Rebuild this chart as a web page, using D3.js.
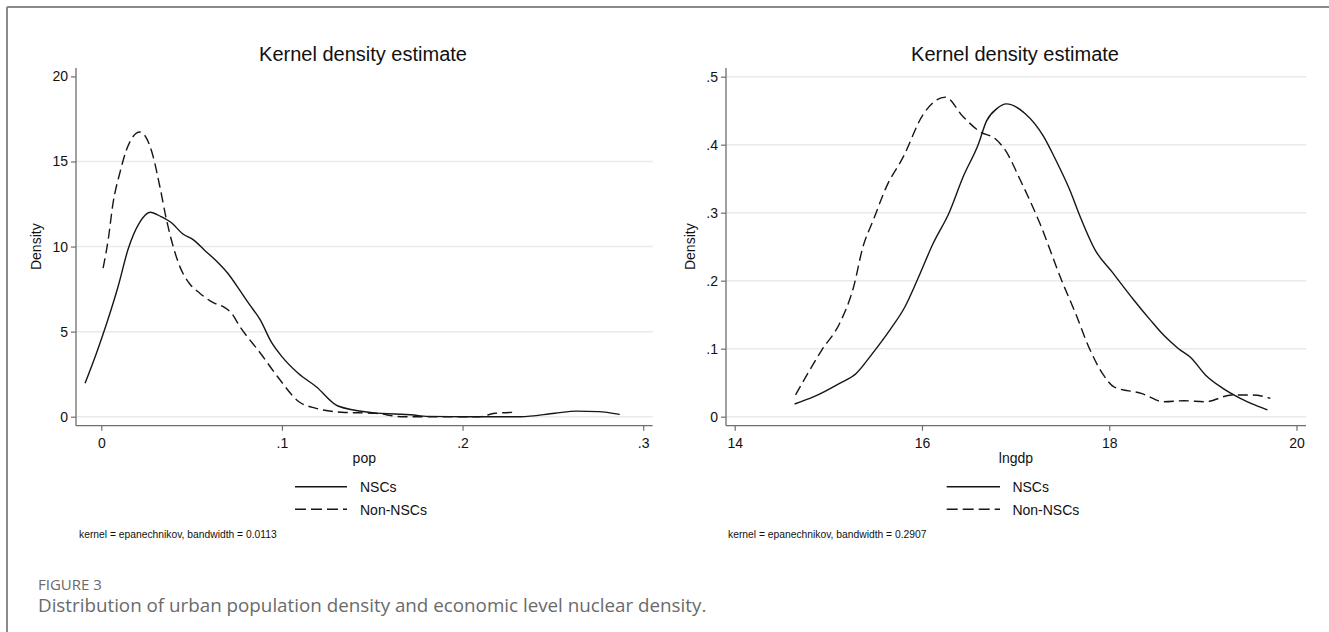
<!DOCTYPE html>
<html>
<head>
<meta charset="utf-8">
<script src="https://cdn.jsdelivr.net/npm/d3@7"></script>
<style>
  html, body { margin: 0; padding: 0; background: #ffffff; }
  svg { display: block; }
  text { font-family: "Liberation Sans", Arial, Helvetica, sans-serif; fill: #111; }
</style>
</head>
<body>
<svg id="chart" width="1329" height="632"></svg>
<script>
// ---------------- data ----------------
// Panel 1: pop
const popNSCsX    = [-0.009, -0.0027, 0.003, 0.0093, 0.015, 0.021, 0.027, 0.033, 0.039, 0.045, 0.051, 0.057, 0.064, 0.070, 0.077, 0.082, 0.088, 0.094, 0.100, 0.109, 0.119, 0.131, 0.150, 0.173, 0.180, 0.200, 0.232, 0.251, 0.263, 0.275, 0.287];
const popNSCsY    = [1.96, 3.73, 5.49, 7.65, 9.9, 11.38, 12.02, 11.76, 11.38, 10.75, 10.39, 9.8, 9.12, 8.43, 7.38, 6.6, 5.69, 4.41, 3.53, 2.55, 1.76, 0.63, 0.24, 0.10, 0.02, 0.0, 0.0, 0.2, 0.33, 0.3, 0.14];
const popNonX     = [0.001, 0.0038, 0.0065, 0.0102, 0.014, 0.0176, 0.0213, 0.025, 0.0287, 0.0324, 0.0361, 0.0398, 0.0435, 0.049, 0.0545, 0.062, 0.0675, 0.0721, 0.0767, 0.0881, 0.0976, 0.1094, 0.1189, 0.1331, 0.152, 0.166, 0.209, 0.218, 0.230];
const popNonY     = [8.73, 10.39, 12.55, 14.3, 15.7, 16.47, 16.73, 16.37, 15.29, 13.53, 11.57, 10.0, 8.82, 7.8, 7.26, 6.7, 6.47, 6.08, 5.3, 3.73, 2.35, 0.88, 0.49, 0.26, 0.2, 0.0, 0.0, 0.2, 0.26];
const popTicksX   = [0, 0.1, 0.2, 0.3];
const popTickLabX = ["0", ".1", ".2", ".3"];
const popTicksY   = [0, 5, 10, 15, 20];
const popTickLabY = ["0", "5", "10", "15", "20"];
const popGrid     = [0, 5, 10, 15];

// Panel 2: lngdp
const gdpNSCsX    = [14.64, 14.84, 15.12, 15.30, 15.46, 15.66, 15.82, 15.95, 16.12, 16.29, 16.44, 16.60, 16.69, 16.80, 16.90, 17.10, 17.30, 17.42, 17.58, 17.69, 17.85, 18.03, 18.26, 18.44, 18.58, 18.74, 18.87, 19.03, 19.21, 19.40, 19.56, 19.69];
const gdpNSCsY    = [0.0187, 0.029, 0.049, 0.064, 0.091, 0.128, 0.162, 0.201, 0.255, 0.30, 0.353, 0.40, 0.435, 0.453, 0.460, 0.446, 0.412, 0.38, 0.333, 0.294, 0.245, 0.213, 0.172, 0.142, 0.120, 0.100, 0.087, 0.061, 0.042, 0.027, 0.017, 0.010];
const gdpNonX     = [14.65, 14.93, 15.12, 15.27, 15.37, 15.48, 15.62, 15.80, 16.01, 16.25, 16.44, 16.62, 16.78, 16.89, 17.05, 17.26, 17.49, 17.64, 17.78, 17.94, 18.05, 18.35, 18.58, 18.80, 19.03, 19.31, 19.53, 19.72];
const gdpNonY     = [0.032, 0.098, 0.137, 0.191, 0.250, 0.289, 0.338, 0.382, 0.444, 0.470, 0.441, 0.419, 0.409, 0.392, 0.348, 0.284, 0.201, 0.152, 0.103, 0.061, 0.044, 0.034, 0.022, 0.0235, 0.022, 0.032, 0.032, 0.027];
const gdpTicksX   = [14, 16, 18, 20];
const gdpTickLabX = ["14", "16", "18", "20"];
const gdpTicksY   = [0, 0.1, 0.2, 0.3, 0.4, 0.5];
const gdpTickLabY = ["0", ".1", ".2", ".3", ".4", ".5"];
const gdpGrid     = [0, 0.1, 0.2, 0.3, 0.4, 0.5];

const seriesNames = ["NSCs", "Non-NSCs"];
const titleText   = "Kernel density estimate";
const xTitles     = ["pop", "lngdp"];
const notes       = ["kernel = epanechnikov, bandwidth = 0.0113", "kernel = epanechnikov, bandwidth = 0.2907"];
const figLabel    = "FIGURE 3";
const captionText = "Distribution of urban population density and economic level nuclear density.";

// ---------------- drawing ----------------
const svg = d3.select("#chart");
const AXIS = "#6e6e6e", GRID = "#e9e9e9", INK = "#161616";
const DASH = "10,5";

// outer frame (top & left)
svg.append("line").attr("x1", 7).attr("y1", 7).attr("x2", 1329).attr("y2", 7)
  .attr("stroke", "#8a8a8a").attr("stroke-width", 2);
svg.append("line").attr("x1", 7).attr("y1", 7).attr("x2", 7).attr("y2", 632)
  .attr("stroke", "#8a8a8a").attr("stroke-width", 2);

const panels = [
  { left: 76, right: 652.6, top: 68, axisY: 425.7,
    xDom: [0, 0.3], xRange: [101.3, 643.2], yDom: [0, 20], yRange: [416.7, 76.4],
    xTicks: popTicksX, xLabs: popTickLabX, yTicks: popTicksY, yLabs: popTickLabY, grid: popGrid,
    s1x: popNSCsX, s1y: popNSCsY, s2x: popNonX, s2y: popNonY,
    titleX: 363, xTitle: xTitles[0], densX: 41, legLine: [295, 347], legText: 360, note: notes[0], noteX: 79 },
  { left: 726, right: 1306, top: 68, axisY: 425.7,
    xDom: [14, 20], xRange: [734.7, 1296.5], yDom: [0, 0.5], yRange: [416.7, 76.7],
    xTicks: gdpTicksX, xLabs: gdpTickLabX, yTicks: gdpTicksY, yLabs: gdpTickLabY, grid: gdpGrid,
    s1x: gdpNSCsX, s1y: gdpNSCsY, s2x: gdpNonX, s2y: gdpNonY,
    titleX: 1015, xTitle: xTitles[1], densX: 695, legLine: [946.7, 1000], legText: 1012.4, note: notes[1], noteX: 728 }
];

panels.forEach(p => {
  const x = d3.scaleLinear().domain(p.xDom).range(p.xRange);
  const y = d3.scaleLinear().domain(p.yDom).range(p.yRange);
  const g = svg.append("g");

  // gridlines
  g.selectAll("line.grid").data(p.grid).enter().append("line")
    .attr("x1", p.left).attr("x2", p.right)
    .attr("y1", d => y(d)).attr("y2", d => y(d))
    .attr("stroke", GRID).attr("stroke-width", 1.5);

  // axes
  const yAxis = d3.axisLeft(y).tickValues(p.yTicks)
    .tickFormat((d, i) => p.yLabs[i]).tickSize(5).tickSizeOuter(0).tickPadding(3);
  const ya = g.append("g").attr("transform", `translate(${p.left},0)`).call(yAxis);
  ya.select(".domain").remove();
  ya.selectAll(".tick line").attr("stroke", AXIS).attr("stroke-width", 1.2);
  ya.selectAll(".tick text").style("font-family", '"Liberation Sans", Arial, sans-serif')
    .style("font-size", "14px").attr("fill", INK);

  const xAxis = d3.axisBottom(x).tickValues(p.xTicks)
    .tickFormat((d, i) => p.xLabs[i]).tickSize(5).tickSizeOuter(0).tickPadding(7);
  const xa = g.append("g").attr("transform", `translate(0,${p.axisY})`).call(xAxis);
  xa.select(".domain").remove();
  xa.selectAll(".tick line").attr("stroke", AXIS).attr("stroke-width", 1.2);
  xa.selectAll(".tick text").style("font-family", '"Liberation Sans", Arial, sans-serif')
    .style("font-size", "14px").attr("fill", INK);

  // axis lines
  g.append("line").attr("x1", p.left).attr("x2", p.left).attr("y1", p.top).attr("y2", p.axisY)
    .attr("stroke", AXIS).attr("stroke-width", 1.3);
  g.append("line").attr("x1", p.left).attr("x2", p.right).attr("y1", p.axisY).attr("y2", p.axisY)
    .attr("stroke", AXIS).attr("stroke-width", 1.3);

  // curves
  const line = d3.line().x(d => x(d[0])).y(d => y(d[1])).curve(d3.curveMonotoneX);
  const d1 = p.s1x.map((v, i) => [v, p.s1y[i]]);
  const d2 = p.s2x.map((v, i) => [v, p.s2y[i]]);
  g.append("path").attr("d", line(d1)).attr("fill", "none")
    .attr("stroke", INK).attr("stroke-width", 1.4);
  g.append("path").attr("d", line(d2)).attr("fill", "none")
    .attr("stroke", INK).attr("stroke-width", 1.4).attr("stroke-dasharray", DASH);

  // titles
  g.append("text").attr("x", p.titleX).attr("y", 61).attr("text-anchor", "middle")
    .style("font-size", "20px").text(titleText);
  g.append("text").attr("x", (p.left + p.right) / 2).attr("y", 462.5).attr("text-anchor", "middle")
    .style("font-size", "14px").text(p.xTitle);
  g.append("text").attr("transform", `translate(${p.densX},246.7) rotate(-90)`)
    .attr("text-anchor", "middle").style("font-size", "14px").text("Density");

  // legend
  const legY = [486.7, 509.3];
  seriesNames.forEach((name, i) => {
    g.append("line").attr("x1", p.legLine[0]).attr("x2", p.legLine[1])
      .attr("y1", legY[i]).attr("y2", legY[i])
      .attr("stroke", INK).attr("stroke-width", 1.4)
      .attr("stroke-dasharray", i === 1 ? "11,5" : null);
    g.append("text").attr("x", p.legText).attr("y", legY[i] + 5.3)
      .style("font-size", "14px").text(name);
  });

  // note
  g.append("text").attr("x", p.noteX).attr("y", 538).style("font-size", "10.3px").text(p.note);
});

// figure caption
svg.append("text").attr("x", 38).attr("y", 590)
  .style("font-family", '"Open Sans", "Noto Sans", sans-serif').style("font-size", "15px")
  .style("font-weight", 500).style("fill", "#6a6a6a").text(figLabel);
svg.append("text").attr("x", 38).attr("y", 612)
  .style("font-family", '"Open Sans", "Noto Sans", sans-serif').style("font-size", "18.8px")
  .style("font-weight", 400).style("fill", "#6a6a6a").text(captionText);
</script>
</body>
</html>
